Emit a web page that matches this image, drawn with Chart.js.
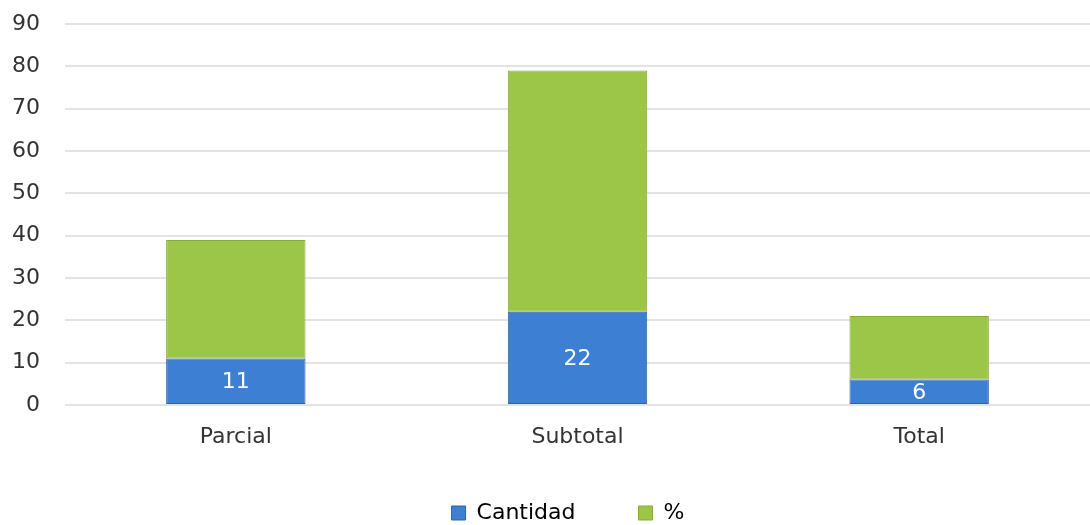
<!DOCTYPE html>
<html>
<head>
<meta charset="utf-8">
<script src="https://cdn.jsdelivr.net/npm/chart.js@4.4.1/dist/chart.umd.min.js"></script>
<style>
  html, body { margin: 0; padding: 0; background: #ffffff; }
  #wrap { width: 1090px; height: 525px; position: relative; }
</style>
</head>
<body>
<div id="wrap"><canvas id="c" width="1090" height="525"></canvas></div>
<script>
const categories = ['Parcial', 'Subtotal', 'Total'];
const cantidad = [11, 22, 6];
const porcentaje = [28, 57, 15];
const seriesNames = ['Cantidad', '%'];
const yTicks = [0, 10, 20, 30, 40, 50, 60, 70, 80, 90];

const FONT = '"DejaVu Sans", Verdana, sans-serif';

function barGradient(ctx, c1, c2, c3) {
  const chart = ctx.chart;
  const el = ctx.element;
  if (!chart.chartArea || !el) return c2;
  const w = el.width || 0;
  const x0 = el.x - w / 2, x1 = el.x + w / 2;
  if (!isFinite(x0) || !isFinite(x1) || w <= 0) return c2;
  const g = chart.ctx.createLinearGradient(x0, 0, x1, 0);
  g.addColorStop(0, c1);
  g.addColorStop(0.06, c2);
  g.addColorStop(0.94, c2);
  g.addColorStop(1, c3);
  return g;
}

const LEGEND_HEIGHT = 82;

const labelPlugin = {
  id: 'segLabels',
  beforeUpdate(chart) {
    const lg = chart.legend;
    if (lg && !lg._fitPatched) {
      const origFit = lg.fit.bind(lg);
      lg.fit = function () { origFit(); this.height = LEGEND_HEIGHT; };
      lg._fitPatched = true;
    }
  },
  afterLayout(chart) {
    const lg = chart.legend;
    if (lg) { lg.left += 23; lg.right += 23; lg.top -= 4; lg.bottom -= 4; }
  },
  afterDatasetsDraw(chart) {
    const meta = chart.getDatasetMeta(0);
    const ctx = chart.ctx;
    ctx.save();
    ctx.fillStyle = '#ffffff';
    ctx.font = '22px ' + FONT;
    ctx.textAlign = 'center';
    ctx.textBaseline = 'middle';
    meta.data.forEach((bar, i) => {
      const y = (bar.y + bar.base) / 2;
      ctx.fillText(String(cantidad[i]), bar.x, y + 1);
    });
    ctx.restore();
  }
};

new Chart(document.getElementById('c'), {
  type: 'bar',
  data: {
    labels: categories,
    datasets: [
      {
        label: seriesNames[0],
        data: cantidad,
        backgroundColor: (ctx) => barGradient(ctx, '#2f65ad', '#3d80d3', '#2a5c9f'),
        borderColor: '#2d62a8',
        borderWidth: 1,
        borderSkipped: false
      },
      {
        label: seriesNames[1],
        data: porcentaje,
        backgroundColor: (ctx) => barGradient(ctx, '#86ad35', '#9cc647', '#7e9f2f'),
        borderColor: '#88aa38',
        borderWidth: 1,
        borderSkipped: false
      }
    ]
  },
  options: {
    responsive: false,
    animation: false,
    devicePixelRatio: 1,
    layout: { padding: { top: 24, right: 0, left: 0, bottom: 0 } },
    datasets: { bar: { categoryPercentage: 0.8, barPercentage: 0.51 } },
    scales: {
      x: {
        stacked: true,
        grid: { display: false, drawTicks: false },
        border: { display: false },
        ticks: { color: '#333333', font: { family: FONT, size: 22 }, padding: 19 },
        afterFit(scale) { scale.height = 38; }
      },
      y: {
        stacked: true,
        min: 0,
        max: 90,
        afterBuildTicks(scale) { scale.ticks = yTicks.map(v => ({ value: v })); },
        grid: { color: '#e3e3e3', lineWidth: 2, drawTicks: true, tickLength: 25, tickColor: 'rgba(0,0,0,0)' },
        border: { display: false },
        ticks: { color: '#333333', font: { family: FONT, size: 22 }, padding: 0 },
        afterFit(scale) { scale.width = 65; }
      }
    },
    plugins: {
      legend: {
        position: 'bottom',
        labels: {
          color: '#333333',
          font: { family: FONT, size: 22 },
          boxWidth: 14,
          boxHeight: 14,
          padding: 63,
          generateLabels(chart) {
            const fills = ['#3d80d3', '#9cc647'];
            const strokes = ['#2d62a8', '#88aa38'];
            return chart.data.datasets.map((ds, i) => ({
              text: ds.label,
              fillStyle: fills[i],
              strokeStyle: strokes[i],
              lineWidth: 1,
              datasetIndex: i,
              hidden: false
            }));
          }
        }
      },
      tooltip: { enabled: false }
    }
  },
  plugins: [labelPlugin]
});
</script>
</body>
</html>
